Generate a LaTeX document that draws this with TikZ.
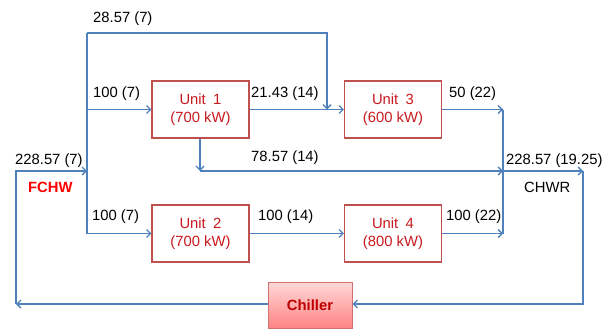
\documentclass[tikz,border=0pt]{standalone}
\usepackage{fontspec}
\setmainfont{Liberation Sans}
\usetikzlibrary{arrows.meta}
\definecolor{flow}{RGB}{79,129,189}
\definecolor{boxline}{RGB}{192,80,77}
\definecolor{unittext}{RGB}{200,25,30}
\definecolor{chtext}{RGB}{190,0,0}
\definecolor{chtop}{RGB}{255,215,215}
\definecolor{chbot}{RGB}{255,130,130}
\begin{document}
\begin{tikzpicture}[x=1pt,y=-1pt,
  every node/.style={font=\fontsize{14.8}{18}\selectfont},
  unitbox/.style={draw=boxline,line width=1.1pt,fill=white,minimum width=97pt,minimum height=57pt,inner sep=0pt,align=center,text=unittext},
  pipe/.style={draw=flow,line width=1.6pt},
  arr/.style={pipe,-{Straight Barb[length=4pt,width=8pt,line width=1.3pt]}},
  lbl/.style={anchor=base west,inner sep=0pt}]
\useasboundingbox (0,0) rectangle (602,329);
% nodes
\node[unitbox] (u1) at (200.5,109.5) {Unit\hspace{0.5em}1\\(700 kW)};
\node[unitbox] (u3) at (393,109.5) {Unit\hspace{0.5em}3\\(600 kW)};
\node[unitbox] (u2) at (200.5,233.5) {Unit\hspace{0.5em}2\\(700 kW)};
\node[unitbox] (u4) at (393,233.5) {Unit\hspace{0.5em}4\\(800 kW)};
\node[draw=boxline!80,line width=1pt,top color=chtop,bottom color=chbot,minimum width=84pt,minimum height=46pt,inner sep=0pt,text=chtext,font=\fontsize{14.8}{18}\selectfont\bfseries] (ch) at (310,305.5) {Chiller};
% junction coordinates
\coordinate (sTop) at (87,33);
\coordinate (sU1) at (87,109.5);
\coordinate (sIn) at (87,171);
\coordinate (sU2) at (87,233.5);
\coordinate (bTop) at (327,33);
\coordinate (bJoin) at (327,109.5);
\coordinate (d1) at (200,171);
\coordinate (mU3) at (503,109.5);
\coordinate (mMid) at (503,171);
\coordinate (mU4) at (503,233.5);
\coordinate (rTop) at (583,171);
\coordinate (rBot) at (583,304);
\coordinate (lBot) at (16,304);
\coordinate (lTop) at (16,171);
% supply side
\draw[pipe] (sTop) -- (sU2);
\draw[arr] (sTop) -- (bTop) -- (bJoin);
\draw[arr] (sU1) -- (u1.west);
\draw[arr] (sU2) -- (u2.west);
\draw[arr] (u1.east) -- (u3.west);
\draw[arr] (u2.east) -- (u4.west);
\draw[arr] (u1.south -| d1) -- (d1);
\draw[arr] (d1) -- (mMid);
\draw[arr] (u3.east) -- (mU3);
\draw[arr] (u4.east) -- (mU4);
\draw[pipe] (mU3) -- (mU4);
\draw[arr] (mMid) -- (rTop);
\draw[arr] (rTop) -- (rBot) -- (ch.east |- rBot);
\draw[arr] (ch.west |- lBot) -- (lBot);
\draw[arr] (lBot) -- (lTop) -- (sIn);
% labels
\node[lbl] (t1) at (93,23) {28.57 (7)};
\node[lbl] (t2) at (93,97) {100 (7)};
\node[lbl] (t3) at (251,97) {21.43 (14)};
\node[lbl] (t4) at (449,97) {50 (22)};
\node[lbl] (t5) at (251,161) {78.57 (14)};
\node[lbl] (t6) at (15,164) {228.57 (7)};
\node[lbl] (t7) at (506,164) {228.57 (19.25)};
\node[lbl,text=red,font=\fontsize{14.8}{18}\selectfont\bfseries] (t8) at (28,192) {FCHW};
\node[lbl] (t9) at (524,192) {CHWR};
\node[lbl] (t10) at (92,220) {100 (7)};
\node[lbl] (t11) at (258,220) {100 (14)};
\node[lbl] (t12) at (446,220) {100 (22)};
\end{tikzpicture}
\end{document}
